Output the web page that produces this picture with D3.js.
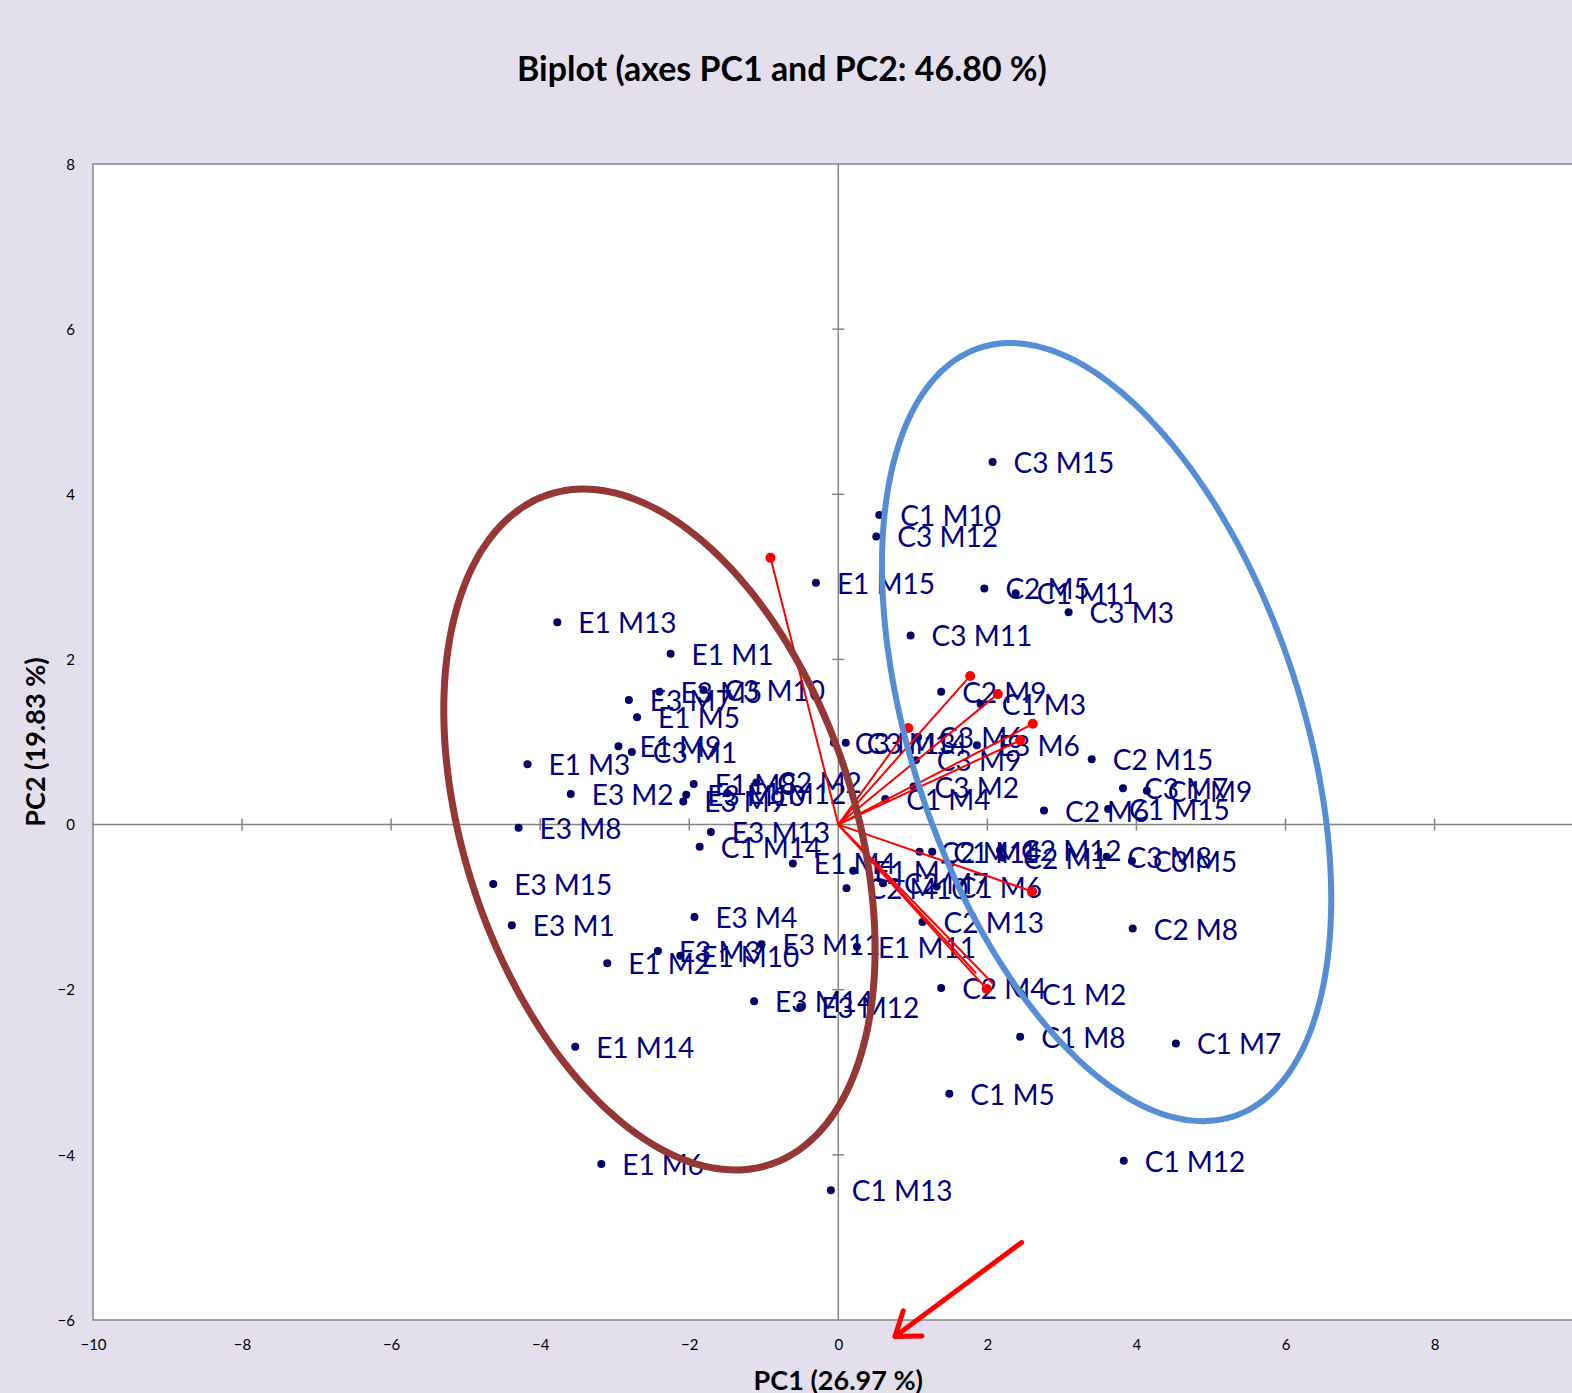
<!DOCTYPE html>
<html><head><meta charset="utf-8">
<script src="https://cdn.jsdelivr.net/npm/d3@7"></script>
<style>
body{margin:0;background:#E4DFEC;overflow:hidden}
svg{display:block}
text{font-family:Lato,"Noto Sans",sans-serif}
</style>
</head><body>
<svg id="chart" width="1572" height="1393"></svg>
<script>
// ---------- data ----------
const titleText = "Biplot (axes PC1 and PC2: 46.80 %)";
const xTitle = "PC1 (26.97 %)";
const yTitle = "PC2 (19.83 %)";
const xTicks = [-10,-8,-6,-4,-2,0,2,4,6,8];
const yTicks = [-6,-4,-2,0,2,4,6,8];

const obsNames = ["C3 M15","C1 M10","C3 M12","E1 M15","C2 M5","C1 M11","C3 M3","E1 M13","C3 M11","E1 M1",
  "E3 M7","E3 M5","C3 M10","C2 M9","C1 M3","E1 M5","C3 M6","E3 M6","C3 M13","C3 M14",
  "E1 M9","C3 M1","C3 M9","C2 M15","E1 M3","C2 M2","E1 M8","C3 M2","C3 M7","C1 M9",
  "E3 M2","E3 M10","E1 M12","C1 M4","E3 M9","C1 M15","C2 M6","E3 M8","E3 M13","C1 M14",
  "C2 M14","C1 M1","C2 M12","C2 M1","C3 M8","C3 M5","E1 M4","E1 M7","C2 M10","C2 M7",
  "C1 M6","E3 M15","E3 M4","C2 M13","E3 M1","C2 M8","E3 M11","E1 M11","E3 M3","E1 M10",
  "E1 M2","C2 M4","C1 M2","E3 M14","E3 M12","C1 M8","C1 M7","E1 M14","C1 M5","C1 M12",
  "E1 M6","C1 M13"];
const obsPC1 = [2.07,0.55,0.51,-0.30,1.96,2.38,3.09,-3.77,0.97,-2.25,
  -2.81,-2.40,-1.81,1.38,1.91,-2.70,1.07,1.86,-0.06,0.10,
  -2.95,-2.77,1.04,3.40,-4.17,-1.10,-1.94,1.01,3.82,4.14,
  -3.59,-2.04,-1.49,0.63,-2.08,3.62,2.76,-4.29,-1.71,-1.86,
  1.09,1.26,2.17,2.20,3.60,3.94,-0.61,0.20,0.11,0.60,
  1.32,-4.63,-1.93,1.13,-4.38,3.95,-1.03,0.25,-2.42,-2.12,
  -3.10,1.38,2.45,-1.13,-0.51,2.44,4.53,-3.53,1.49,3.83,
  -3.18,-0.10];
const obsPC2 = [4.39,3.75,3.49,2.93,2.86,2.80,2.57,2.45,2.29,2.07,
  1.51,1.61,1.63,1.61,1.46,1.30,1.06,0.96,0.99,0.99,
  0.95,0.88,0.78,0.79,0.73,0.51,0.49,0.46,0.44,0.41,
  0.37,0.36,0.38,0.31,0.28,0.19,0.17,-0.04,-0.09,-0.27,
  -0.33,-0.33,-0.31,-0.40,-0.39,-0.44,-0.47,-0.56,-0.77,-0.71,
  -0.75,-0.72,-1.12,-1.18,-1.22,-1.26,-1.45,-1.48,-1.53,-1.59,
  -1.68,-1.98,-2.05,-2.14,-2.21,-2.57,-2.65,-2.69,-3.26,-4.07,
  -4.11,-4.43];

// variable vectors (loadings, scaled); 1 = end dot visible
const vecPC1 = [-0.91,0.94,1.77,2.14,2.61,2.44,2.60,1.99,2.08,1.85];
const vecPC2 = [3.23,1.17,1.80,1.58,1.22,1.02,-0.81,-1.99,-1.93,-1.80];
const vecDot = [1,1,1,1,1,1,1,1,0,0];

// group ellipses (centre + conjugate semi-axis vectors, data units)
const ellipseNames = ["E group","C group"];
const ellipseCX = [-2.40, 3.60];
const ellipseCY = [-0.06, 1.12];
const ellipseUX = [1.487, 1.704];
const ellipseUY = [-4.056, -4.653];
const ellipseVX = [2.482, 2.486];
const ellipseVY = [0.741, 0.741];

// annotation arrow (data units): tail -> tip
const arrowPC1 = [2.46, 0.76];
const arrowPC2 = [-5.06, -6.20];

// ---------- drawing ----------
const svg = d3.select("#chart");
const x = d3.scaleLinear().domain([-10,10]).range([93,1583.6]);
const y = d3.scaleLinear().domain([-6,8]).range([1320,164]);
const gridCol = "#868686";

svg.append("rect").attr("x",0).attr("y",0).attr("width",1572).attr("height",1393).attr("fill","#E4DFEC");
svg.append("rect").attr("x",x(-10)).attr("y",y(8)).attr("width",x(10)-x(-10)).attr("height",y(-6)-y(8))
  .attr("fill","#fff").attr("stroke",gridCol).attr("stroke-width",1.5);

// zero axes
svg.append("line").attr("x1",x(0)).attr("x2",x(0)).attr("y1",y(8)).attr("y2",y(-6)).attr("stroke",gridCol).attr("stroke-width",1.5);
svg.append("line").attr("x1",x(-10)).attr("x2",x(10)).attr("y1",y(0)).attr("y2",y(0)).attr("stroke",gridCol).attr("stroke-width",1.5);
// cross ticks on zero axes
svg.append("g").selectAll("line").data(xTicks.filter(d=>d!==0 && d!==-10)).join("line")
  .attr("x1",d=>x(d)).attr("x2",d=>x(d)).attr("y1",y(0)-6).attr("y2",y(0)+6).attr("stroke",gridCol).attr("stroke-width",1.5);
svg.append("g").selectAll("line").data(yTicks.filter(d=>d!==0 && d!==-6 && d!==8)).join("line")
  .attr("y1",d=>y(d)).attr("y2",d=>y(d)).attr("x1",x(0)-6).attr("x2",x(0)+6).attr("stroke",gridCol).attr("stroke-width",1.5);

// tick labels via axes
const ax = svg.append("g").attr("transform",`translate(0,${y(-6)})`)
  .call(d3.axisBottom(x).tickValues(xTicks).tickSize(0).tickPadding(19).tickFormat(d3.format("d")));
const ay = svg.append("g").attr("transform",`translate(${x(-10)},0)`)
  .call(d3.axisLeft(y).tickValues(yTicks).tickSize(0).tickPadding(18).tickFormat(d3.format("d")));
[ax,ay].forEach(g=>{g.select(".domain").remove();
  g.selectAll("text").attr("font-family","Lato, sans-serif").attr("font-size",15).attr("fill","#000");});
ay.selectAll("text").attr("dy","0.35em");

// observations
const obs = obsNames.map((n,i)=>({n, px:obsPC1[i], py:obsPC2[i]}));
const gObs = svg.append("g");
gObs.selectAll("circle").data(obs).join("circle")
  .attr("cx",d=>x(d.px)).attr("cy",d=>y(d.py)).attr("r",4).attr("fill","#000066");
gObs.selectAll("text").data(obs).join("text")
  .attr("x",d=>x(d.px)+21).attr("y",d=>y(d.py)+11)
  .attr("font-size",28).attr("fill","#000080").text(d=>d.n);

// vectors
const vecs = vecPC1.map((v,i)=>({px:v, py:vecPC2[i], dot:vecDot[i]}));
const gV = svg.append("g");
gV.selectAll("line").data(vecs).join("line")
  .attr("x1",x(0)).attr("y1",y(0)).attr("x2",d=>x(d.px)).attr("y2",d=>y(d.py))
  .attr("stroke","#FF0000").attr("stroke-width",2);
gV.selectAll("circle").data(vecs.filter(d=>d.dot)).join("circle")
  .attr("cx",d=>x(d.px)).attr("cy",d=>y(d.py)).attr("r",5).attr("fill","#FF0000");

// ellipses
const ellColors = ["#953735","#558ED5"];
const ellWidths = [7,6];
const ts = d3.range(0,360,2).map(a=>a*Math.PI/180);
ellipseNames.forEach((nm,i)=>{
  const pts = ts.map(t=>[x(ellipseCX[i]+ellipseUX[i]*Math.cos(t)+ellipseVX[i]*Math.sin(t)),
                         y(ellipseCY[i]+ellipseUY[i]*Math.cos(t)+ellipseVY[i]*Math.sin(t))]);
  svg.append("path").attr("d",d3.line().curve(d3.curveCardinalClosed)(pts))
    .attr("fill","none").attr("stroke",ellColors[i]).attr("stroke-width",ellWidths[i]);
});

// annotation arrow
const tx0=x(arrowPC1[0]), ty0=y(arrowPC2[0]), tx1=x(arrowPC1[1]), ty1=y(arrowPC2[1]);
const ang = Math.atan2(ty0-ty1, tx0-tx1);
const hl = 27, spread = 0.62;
const armA = [tx1+hl*Math.cos(ang+spread), ty1+hl*Math.sin(ang+spread)];
const armB = [tx1+hl*Math.cos(ang-spread), ty1+hl*Math.sin(ang-spread)];
svg.append("path").attr("d",`M${tx0},${ty0}L${tx1},${ty1}M${armA[0]},${armA[1]}L${tx1},${ty1}L${armB[0]},${armB[1]}`)
  .attr("fill","none").attr("stroke","#FF0000").attr("stroke-width",5).attr("stroke-linecap","round").attr("stroke-linejoin","round");

// titles
const t = svg.append("text").attr("x",782).attr("y",81).attr("text-anchor","middle")
  .attr("font-weight","bold").attr("font-size",28).attr("fill","#000").text(titleText);
const w = t.node().getComputedTextLength();
t.attr("font-size", 28*530/w);
svg.append("text").attr("transform",`translate(45,${(y(8)+y(-6))/2}) rotate(-90)`).attr("text-anchor","middle")
  .attr("font-weight","bold").attr("font-size",27).attr("fill","#000").text(yTitle);
svg.append("text").attr("x",(x(-10)+x(10))/2).attr("y",1390).attr("text-anchor","middle")
  .attr("font-weight","bold").attr("font-size",27).attr("fill","#000").text(xTitle);
</script>
</body></html>
